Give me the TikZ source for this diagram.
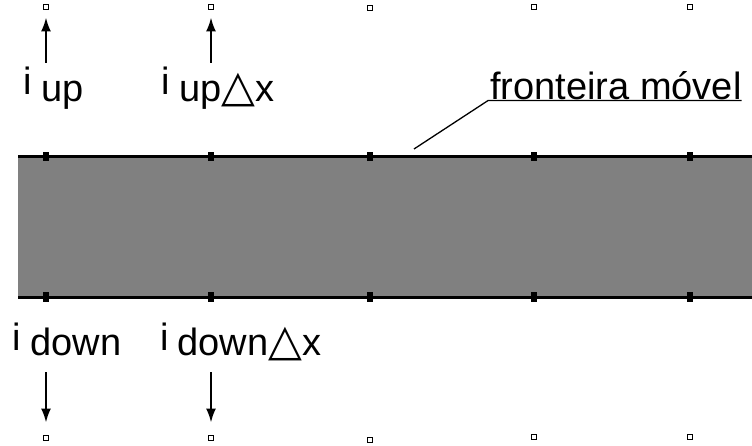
\documentclass[tikz,border=0pt]{standalone}
\usepackage{fontspec}
\setmainfont{Liberation Sans}
\newfontfamily\symfont{DejaVu Sans}
\usetikzlibrary{arrows.meta,positioning,calc}
\definecolor{bandgray}{RGB}{128,128,128}

\newcommand{\tri}{{\symfont\fontsize{44}{46}\selectfont △}}

\begin{document}
\begin{tikzpicture}[x=1pt, y=-1pt,
    lbl/.style={font=\fontsize{38}{42}\selectfont, inner sep=0pt, anchor=base west},
    griddot/.style={draw, fill=white, line width=1.4pt, minimum size=5.5pt, inner sep=0pt},
    linedot/.style={fill=black, minimum width=6pt, minimum height=9pt, inner sep=0pt},
    flux/.style={line width=2pt, -{Latex[length=14pt,width=10pt]}}]
    \useasboundingbox (0,0) rectangle (752,446);

    % Moving band
    \fill[bandgray] (18,157) rectangle (752,297);
    \draw[line width=3pt] (18,157) -- (752,157);
    \draw[line width=3pt] (18,297) -- (752,297);

    % Grid points
    \foreach \n/\x/\yt/\yb in {1/46/7/438, 2/211/7/438, 3/370/8/440, 4/534/7/437, 5/690/7/437} {
        \node[griddot] (t\n) at (\x,\yt) {};
        \node[griddot] (b\n) at (\x,\yb) {};
        \node[linedot] (u\n) at (\x,157) {};
        \node[linedot] (d\n) at (\x,297) {};
    }

    % Labels
    \node[lbl] (iup) at (23,95) {i\hspace{10pt}\raisebox{-7pt}{up}};
    \node[lbl] (iupdx) at (161,95) {i\hspace{10pt}\raisebox{-7pt}{up\tri x}};
    \node[lbl] (idown) at (12,350) {i\hspace{10pt}\raisebox{-5pt}{down}};
    \node[lbl] (idowndx) at (160,350) {i\hspace{9pt}\raisebox{-5pt}{down\tri x}};
    \node[lbl] (front) at (490,100) {fronteira móvel};

    % Flux arrows
    \coordinate (a1) at (46,63);
    \coordinate (a2) at (211,63);
    \coordinate (c1) at (46,372);
    \coordinate (c2) at (211,372);
    \draw[flux, shorten >=7pt] (a1) -- (t1.south);
    \draw[flux, shorten >=7pt] (a2) -- (t2.south);
    \draw[flux, shorten >=12pt] (c1) -- (b1.north);
    \draw[flux, shorten >=12pt] (c2) -- (b2.north);

    % Pointer to the boundary
    \coordinate (ptr) at (414,149);
    \draw[line width=1.3pt] (ptr) -- ($(front.south west)+(-2,0)$) -- (front.south east);
\end{tikzpicture}
\end{document}
